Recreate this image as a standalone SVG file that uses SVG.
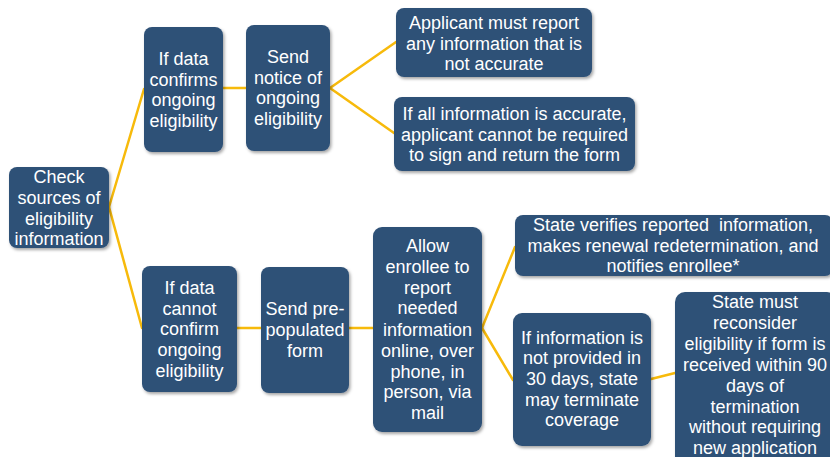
<svg xmlns="http://www.w3.org/2000/svg" width="830" height="457" viewBox="0 0 830 457">
<style>
.box{fill:#2F5177;filter:url(#sh)}
.t{font-family:"Liberation Sans",Arial,sans-serif;font-size:18px;fill:#FFFFFF;text-anchor:middle}
.c{stroke:#F7BA0B;stroke-width:2.5;fill:none;stroke-linecap:round}
.pre{white-space:pre}
</style>
<defs>
<filter id="sh" x="-20%" y="-20%" width="140%" height="140%">
<feDropShadow dx="1.5" dy="2" stdDeviation="1.8" flood-color="#000" flood-opacity="0.35"/>
</filter>
</defs>
<rect width="830" height="457" fill="#FFFFFF"/>
<g id="connectors">
<line class="c" x1="109" y1="207" x2="144" y2="89"/>
<line class="c" x1="109" y1="207" x2="142" y2="328"/>
<line class="c" x1="223" y1="88" x2="246" y2="88"/>
<line class="c" x1="330" y1="88" x2="396" y2="42"/>
<line class="c" x1="330" y1="88" x2="394" y2="133"/>
<line class="c" x1="237" y1="328" x2="261" y2="328"/>
<line class="c" x1="349" y1="328" x2="373" y2="328"/>
<line class="c" x1="482" y1="328" x2="515" y2="247"/>
<line class="c" x1="482" y1="328" x2="513" y2="380"/>
<line class="c" x1="651" y1="379" x2="675" y2="373"/>
</g>
<g id="check">
<rect class="box" x="9" y="167" width="100" height="81" rx="8"/>
<text class="t" x="59" y="183">Check</text>
<text class="t" x="59" y="204">sources of</text>
<text class="t" x="59" y="224.5">eligibility</text>
<text class="t" x="59" y="245">information</text>
</g>
<g id="confirms">
<rect class="box" x="144" y="27" width="79" height="125" rx="8"/>
<text class="t" x="183.5" y="65">If data</text>
<text class="t" x="183.5" y="86">confirms</text>
<text class="t" x="183.5" y="106">ongoing</text>
<text class="t" x="183.5" y="127">eligibility</text>
</g>
<g id="notice">
<rect class="box" x="246" y="25" width="84" height="126" rx="8"/>
<text class="t" x="288" y="63">Send</text>
<text class="t" x="288" y="84">notice of</text>
<text class="t" x="288" y="104">ongoing</text>
<text class="t" x="288" y="125">eligibility</text>
</g>
<g id="report">
<rect class="box" x="396" y="8" width="196" height="69" rx="8"/>
<text class="t" x="494" y="29">Applicant must report</text>
<text class="t" x="494" y="49.5">any information that is</text>
<text class="t" x="494" y="70">not accurate</text>
</g>
<g id="accurate">
<rect class="box" x="394" y="97" width="241" height="74" rx="8"/>
<text class="t" x="514.5" y="120">If all information is accurate,</text>
<text class="t" x="514.5" y="140.5">applicant cannot be required</text>
<text class="t" x="514.5" y="161">to sign and return the form</text>
</g>
<g id="cannot">
<rect class="box" x="142" y="266" width="95" height="126" rx="8"/>
<text class="t" x="189.5" y="294">If data</text>
<text class="t" x="189.5" y="314.5">cannot</text>
<text class="t" x="189.5" y="335">confirm</text>
<text class="t" x="189.5" y="356">ongoing</text>
<text class="t" x="189.5" y="376.5">eligibility</text>
</g>
<g id="prepop">
<rect class="box" x="261" y="267" width="88" height="126" rx="8"/>
<text class="t" x="305" y="315">Send pre-</text>
<text class="t" x="305" y="336">populated</text>
<text class="t" x="305" y="357">form</text>
</g>
<g id="allow">
<rect class="box" x="373" y="227" width="109" height="205" rx="9"/>
<text class="t" x="427.5" y="252">Allow</text>
<text class="t" x="427.5" y="273">enrollee to</text>
<text class="t" x="427.5" y="294">report</text>
<text class="t" x="427.5" y="314">needed</text>
<text class="t" x="427.5" y="336">information</text>
<text class="t" x="427.5" y="357">online, over</text>
<text class="t" x="427.5" y="378">phone, in</text>
<text class="t" x="427.5" y="398">person, via</text>
<text class="t" x="427.5" y="419">mail</text>
</g>
<g id="verifies">
<rect class="box" x="515" y="215" width="318" height="61" rx="8"/>
<text class="t pre" x="673" y="231" xml:space="preserve">State verifies reported  information,</text>
<text class="t" x="673" y="251.5">makes renewal redetermination, and</text>
<text class="t" x="673" y="272">notifies enrollee*</text>
</g>
<g id="terminate">
<rect class="box" x="513" y="313" width="138" height="133" rx="9"/>
<text class="t" x="582" y="343.5">If information is</text>
<text class="t" x="582" y="364">not provided in</text>
<text class="t" x="582" y="385">30 days, state</text>
<text class="t" x="582" y="405.5">may terminate</text>
<text class="t" x="582" y="426">coverage</text>
</g>
<g id="reconsider">
<rect class="box" x="675" y="292" width="162" height="180" rx="10"/>
<text class="t" x="755" y="308">State must</text>
<text class="t" x="755" y="329">reconsider</text>
<text class="t" x="755" y="350">eligibility if form is</text>
<text class="t" x="755" y="371">received within 90</text>
<text class="t" x="755" y="392">days of</text>
<text class="t" x="755" y="413">termination</text>
<text class="t" x="755" y="433">without requiring</text>
<text class="t" x="755" y="454">new application</text>
</g>
</svg>
